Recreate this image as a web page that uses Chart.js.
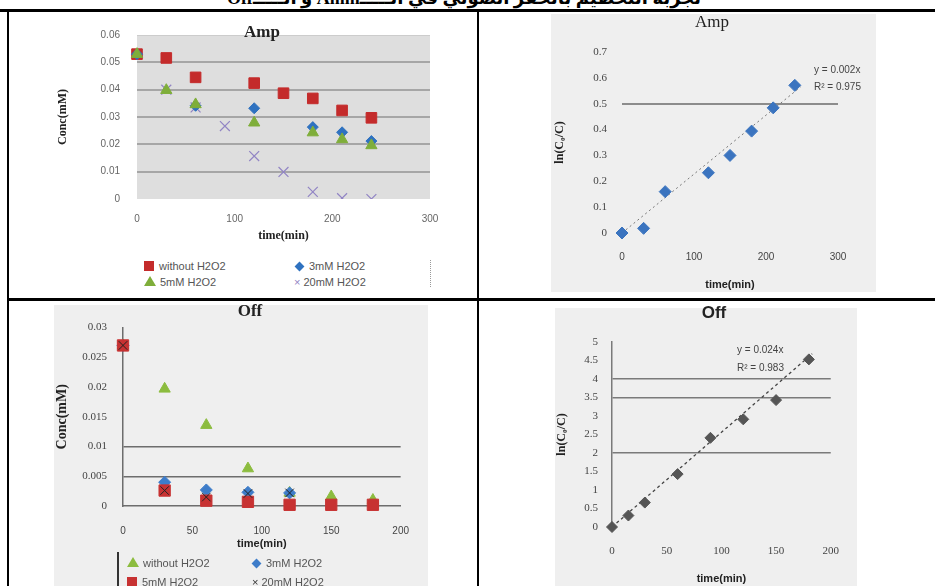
<!DOCTYPE html>
<html>
<head>
<meta charset="utf-8">
<script src="https://cdn.jsdelivr.net/npm/chart.js@4.4.1/dist/chart.umd.min.js"></script>
<style>
body { margin:0; width:935px; height:586px; overflow:hidden; background:#fff; position:relative; font-family:"Liberation Sans", sans-serif; }
.ln { position:absolute; background:#000; }
.panel { position:absolute; }
.panel canvas { position:absolute; left:0; top:0; }
.t { position:absolute; white-space:nowrap; transform:translate(-50%,-50%); }
.lt { position:absolute; white-space:nowrap; transform:translateY(-50%); font-size:11px; color:#555; }
.sq { display:inline-block; width:10px; height:10px; vertical-align:-1px; margin-right:5px; }
.dm { display:inline-block; width:7px; height:7px; transform:rotate(45deg); vertical-align:0px; margin-right:6px; }
.tri { display:inline-block; width:0; height:0; border-left:6px solid transparent; border-right:6px solid transparent; vertical-align:0px; margin-right:4px; }
.trend { position:absolute; white-space:nowrap; transform:translateY(-50%); font-size:10px; color:#444; }
</style>
</head>
<body>

<div class="t" style="left:464px;font:bold 18px 'Liberation Serif', 'DejaVu Sans', serif;transform:translate(-50%,0);line-height:18px;top:-11px;" dir="rtl">تجربة التحطيم بالحفز الضوئي في الـــــAmm و الـــــOff</div>

<!-- table lines -->
<div class="ln" style="left:0;top:9px;width:935px;height:2.5px;"></div>
<div class="ln" style="left:7px;top:9px;width:2px;height:577px;"></div>
<div class="ln" style="left:476.5px;top:9px;width:2.5px;height:577px;"></div>
<div class="ln" style="left:7px;top:298px;width:928px;height:2.5px;"></div>

<!-- panel 1 -->
<div class="panel" style="left:10px;top:12px;width:460px;height:240px;"><canvas id="c1" width="460" height="240"></canvas></div>
<div class="t" style="left:262px;top:32px;font:bold 17px 'Liberation Serif', serif;color:#222;">Amp</div>
<div class="lt" style="left:144px;top:266px;"><span class="sq" style="background:#c42b2b;"></span>without H2O2</div>
<div class="lt" style="left:296px;top:266px;"><span class="dm" style="background:#2f72c0;"></span>3mM H2O2</div>
<div class="lt" style="left:144px;top:282px;"><span class="tri" style="border-bottom:10px solid #7fae3a;"></span>5mM H2O2</div>
<div class="lt" style="left:294px;top:282px;"><span style="color:#9184c4;margin-right:3px;">×</span>20mM H2O2</div>
<div style="position:absolute;left:430px;top:260px;height:27px;border-left:1px dotted #999;"></div>

<!-- panel 2 -->
<div class="panel" style="left:551px;top:14px;width:325px;height:278px;background:#efefef;"><canvas id="c2" width="325" height="278"></canvas></div>
<div class="t" style="left:712px;top:22px;font:17px 'Liberation Serif', serif;color:#222;">Amp</div>
<div class="trend" style="left:814px;top:69px;">y = 0.002x</div>
<div class="trend" style="left:814px;top:86px;">R² = 0.975</div>

<!-- panel 3 -->
<div class="panel" style="left:54px;top:305px;width:374px;height:281px;background:#efefef;"><canvas id="c3" width="374" height="281"></canvas></div>
<div class="t" style="left:250px;top:311px;font:bold 17px 'Liberation Serif', serif;color:#222;">Off</div>
<div style="position:absolute;left:117px;top:552px;width:1.5px;height:34px;background:#333;"></div>
<div class="lt" style="left:127px;top:563px;"><span class="tri" style="border-bottom:10px solid #8cbc3f;"></span>without H2O2</div>
<div class="lt" style="left:253px;top:563px;"><span class="dm" style="background:#3d7cc9;"></span>3mM H2O2</div>
<div class="lt" style="left:127px;top:582px;"><span class="sq" style="background:#c73232;"></span>5mM H2O2</div>
<div class="lt" style="left:252px;top:582px;"><span style="color:#333;margin-right:3px;">×</span>20mM H2O2</div>

<!-- panel 4 -->
<div class="panel" style="left:555px;top:308px;width:302px;height:278px;background:#efefef;"><canvas id="c4" width="302" height="278"></canvas></div>
<div class="t" style="left:714px;top:313px;font:bold 17px 'Liberation Sans', sans-serif;color:#222;">Off</div>
<div class="trend" style="left:737px;top:349px;">y = 0.024x</div>
<div class="trend" style="left:737px;top:367px;">R² = 0.983</div>

<script>
// Amp - concentration vs time
const ampTimesWithout = [0, 30, 60, 120, 150, 180, 210, 240];
const ampWithout = [0.053, 0.0516, 0.0445, 0.0424, 0.0387, 0.0368, 0.0324, 0.0297];
const ampTimes3mM = [0, 60, 120, 180, 210, 240];
const amp3mM = [0.053, 0.0341, 0.0332, 0.0263, 0.0244, 0.0212];
const ampTimes5mM = [0, 30, 60, 120, 180, 210, 240];
const amp5mM = [0.053, 0.0398, 0.0346, 0.0279, 0.0243, 0.0218, 0.0196];
const ampTimes20mM = [0, 30, 60, 90, 120, 150, 180, 210, 240];
const amp20mM = [0.053, 0.040, 0.0335, 0.0267, 0.0157, 0.0099, 0.0026, 0.0003, 0.0];
const ampConcTicks = [0, 0.01, 0.02, 0.03, 0.04, 0.05, 0.06];
const ampTimeTicks = [0, 100, 200, 300];

// Amp - ln(C0/C)
const ampLnTimes = [0, 30, 60, 120, 150, 180, 210, 240];
const ampLn = [0, 0.018, 0.16, 0.233, 0.30, 0.394, 0.484, 0.571];
const ampTrendX = [0, 248];
const ampTrendY = [0, 0.565];
const ampLnTicks = [0, 0.1, 0.2, 0.3, 0.4, 0.5, 0.6, 0.7];

// Off - concentration vs time
const offTimes = [0, 30, 60, 90, 120, 150, 180];
const offWithout = [0.027, 0.0197, 0.0136, 0.0063, 0.0022, 0.0016, 0.001];
const offTimes3mM = [0, 30, 60, 90, 120];
const off3mM = [0.027, 0.0040, 0.0027, 0.0023, 0.0022];
const off5mM = [0.027, 0.0026, 0.0009, 0.0007, 0.0002, 0.0002, 0.0002];
const offTimes20mM = [0, 30, 60, 90, 120];
const off20mM = [0.027, 0.0026, 0.0015, 0.0021, 0.0022];
const offConcTicks = [0, 0.005, 0.01, 0.015, 0.02, 0.025, 0.03];
const offTimeTicks = [0, 50, 100, 150, 200];

// Off - ln(C0/C)
const offLnTimes = [0, 15, 30, 60, 90, 120, 150, 180];
const offLn = [0, 0.31, 0.66, 1.43, 2.41, 2.91, 3.43, 4.53];
const offTrendX = [0, 183];
const offTrendY = [0, 4.68];
const offLnTicks = [0, 0.5, 1, 1.5, 2, 2.5, 3, 3.5, 4, 4.5, 5];

function pts(xs, ys) {
    return ys.map((y, i) => ({ x: xs[i], y: y }));
}

function setTicks(arr) {
    return scale => { scale.ticks = arr.map(v => ({ value: v })); };
}

const sansTick = { family: 'Liberation Sans', size: 10 };
const serifTick = { family: 'Liberation Serif', size: 11 };

// grey plot area, drawn before the grid
const plotBgUnder = {
    id: 'plotBgUnder',
    beforeDraw(chart, args, opts) {
        if (!opts.color) return;
        const a = chart.chartArea;
        chart.ctx.save();
        chart.ctx.fillStyle = opts.color;
        chart.ctx.fillRect(a.left, a.top, a.right - a.left, a.bottom - a.top);
        chart.ctx.restore();
    }
};

function makeChart(id, o) {
    const ctx = document.getElementById(id).getContext('2d');
    o.datasets.forEach(d => { if (d.clip === undefined) d.clip = o.clip; });
    return new Chart(ctx, {
        type: 'scatter',
        data: { datasets: o.datasets },
        plugins: [plotBgUnder],
        options: {
            responsive: false,
            animation: false,
            layout: { padding: o.padding },
            plugins: {
                legend: { display: false },
                tooltip: { enabled: false },
                plotBgUnder: { color: o.bg }
            },
            scales: {
                x: {
                    type: 'linear', min: o.xMin, max: o.xMax,
                    afterBuildTicks: setTicks(o.xTicks),
                    afterFit: s => { s.height = o.xHeight; },
                    ticks: { padding: o.xPad, font: o.xTickFont || sansTick, color: o.tickColor, callback: v => String(v) },
                    grid: { display: false, drawTicks: false },
                    border: o.xBorder,
                    title: { display: true, text: 'time(min)', font: o.xTitleFont, color: '#222', padding: { top: 0, bottom: o.xTitlePad } }
                },
                y: {
                    type: 'linear', min: o.yMin, max: o.yMax,
                    afterBuildTicks: setTicks(o.yTicks),
                    afterFit: s => { s.width = o.yWidth; },
                    ticks: { padding: o.yPad, font: o.yTickFont || sansTick, color: o.tickColor, callback: v => String(v) },
                    grid: {
                        drawTicks: false,
                        color: c => o.gridAt.includes(c.tick.value) ? o.gridColor : (o.topGrid !== undefined && c.tick.value === o.yMax ? o.topGrid : 'rgba(0,0,0,0)'),
                        lineWidth: c => o.gridAt.includes(c.tick.value) ? o.gridWidth : 1
                    },
                    border: o.yBorder,
                    title: { display: true, text: o.yTitle, font: o.yTitleFont, color: '#222', padding: { top: o.yTitlePad, bottom: 0 } }
                }
            }
        }
    });
}

// panel 1
makeChart('c1', {
    padding: { top: 23, right: 40, left: 0, bottom: 0 },
    bg: '#dedede',
    clip: { left: false, top: false, right: false, bottom: 0 },
    xMin: 0, xMax: 300, xTicks: ampTimeTicks, xHeight: 53, xPad: 14, xTitlePad: 9,
    xTitleFont: { family: 'Liberation Serif', size: 12, weight: 'bold' },
    xBorder: { display: false },
    yMin: 0, yMax: 0.06, yTicks: ampConcTicks, yWidth: 127, yPad: 17, yTitlePad: 46,
    yTitle: 'Conc(mM)', yTitleFont: { family: 'Liberation Serif', size: 12, weight: 'bold' },
    yBorder: { display: false },
    tickColor: '#666',
    gridAt: [0.01, 0.02, 0.03, 0.04, 0.05], gridColor: '#a6a6a6', gridWidth: 2, topGrid: '#cccccc',
    datasets: [
        { label: '5mM H2O2', data: pts(ampTimes5mM, amp5mM), pointStyle: 'triangle', radius: 6.5, backgroundColor: '#7fae3a', borderColor: '#7fae3a', borderWidth: 1 },
        { label: '3mM H2O2', data: pts(ampTimes3mM, amp3mM), pointStyle: 'rectRot', radius: 5.5, backgroundColor: '#2f72c0', borderColor: '#2f72c0', borderWidth: 1 },
        { label: 'without H2O2', data: pts(ampTimesWithout, ampWithout), pointStyle: 'rect', radius: 7.5, backgroundColor: '#c42b2b', borderColor: '#c42b2b', borderWidth: 1 },
        { label: '20mM H2O2', data: pts(ampTimes20mM, amp20mM), pointStyle: 'crossRot', radius: 7, backgroundColor: '#9184c4', borderColor: '#9184c4', borderWidth: 1.2 }
    ]
});

// panel 2
makeChart('c2', {
    padding: { top: 38, right: 38, left: 0, bottom: 0 },
    clip: false,
    xMin: 0, xMax: 300, xTicks: ampTimeTicks, xHeight: 59, xPad: 18, xTitlePad: 0,
    xTitleFont: { family: 'Liberation Sans', size: 11, weight: 'bold' },
    xBorder: { display: false },
    yMin: 0, yMax: 0.7, yTicks: ampLnTicks, yWidth: 71, yPad: 15, yTitlePad: 2,
    yTickFont: serifTick,
    yTitle: 'ln(C₀/C)', yTitleFont: { family: 'Liberation Serif', size: 12, weight: 'bold' },
    yBorder: { display: false },
    tickColor: '#444',
    gridAt: [0.5], gridColor: '#8c8c8c', gridWidth: 2,
    datasets: [
        { label: 'Amp', data: pts(ampLnTimes, ampLn), pointStyle: 'rectRot', radius: 6, backgroundColor: '#3b74bf', borderColor: '#3b74bf', borderWidth: 1 },
        { label: 'trend', data: pts(ampTrendX, ampTrendY), showLine: true, pointRadius: 0, borderColor: '#777', borderWidth: 1, borderDash: [2, 3] }
    ]
});

// panel 3
makeChart('c3', {
    padding: { top: 14, right: 15, left: 0, bottom: 0 },
    clip: false,
    xMin: 0, xMax: 200, xTicks: offTimeTicks, xHeight: 80, xPad: 19, xTitlePad: 35,
    xTitleFont: { family: 'Liberation Sans', size: 11, weight: 'bold' },
    xBorder: { display: true, color: '#6d6d6d', width: 1.5 },
    yMin: 0, yMax: 0.03, yTicks: offConcTicks, yWidth: 69, yPad: 16, yTitlePad: 0,
    yTickFont: serifTick,
    yTitle: 'Conc(mM)', yTitleFont: { family: 'Liberation Serif', size: 14, weight: 'bold' },
    yBorder: { display: true, color: '#6d6d6d', width: 1.5 },
    tickColor: '#444',
    gridAt: [0.005, 0.01], gridColor: '#6d6d6d', gridWidth: 1.5,
    datasets: [
        { label: '20mM H2O2', data: pts(offTimes20mM, off20mM), pointStyle: 'crossRot', radius: 6, backgroundColor: '#222', borderColor: '#222', borderWidth: 1 },
        { label: '5mM H2O2', data: pts(offTimes, off5mM), pointStyle: 'rect', radius: 8, backgroundColor: '#c73232', borderColor: '#c73232', borderWidth: 1 },
        { label: '3mM H2O2', data: pts(offTimes3mM, off3mM), pointStyle: 'rectRot', radius: 6, backgroundColor: '#3d7cc9', borderColor: '#3d7cc9', borderWidth: 1 },
        { label: 'without H2O2', data: pts(offTimes, offWithout), pointStyle: 'triangle', radius: 6.5, backgroundColor: '#8cbc3f', borderColor: '#8cbc3f', borderWidth: 1 }
    ]
});

// panel 4
makeChart('c4', {
    padding: { top: 34, right: 9, left: 0, bottom: 0 },
    clip: false,
    xMin: 0, xMax: 200, xTicks: offTimeTicks, xHeight: 59, xPad: 18, xTitlePad: 0,
    xTickFont: serifTick,
    xTitleFont: { family: 'Liberation Sans', size: 11, weight: 'bold' },
    xBorder: { display: false },
    yMin: 0, yMax: 5, yTicks: offLnTicks, yWidth: 57, yPad: 14, yTitlePad: 0,
    yTickFont: serifTick,
    yTitle: 'ln(C₀/C)', yTitleFont: { family: 'Liberation Serif', size: 12, weight: 'bold' },
    yBorder: { display: true, color: '#7a7a7a', width: 1.5 },
    tickColor: '#444',
    gridAt: [2, 3.5, 4], gridColor: '#7a7a7a', gridWidth: 1.5,
    datasets: [
        { label: 'Off', data: pts(offLnTimes, offLn), pointStyle: 'rectRot', radius: 5.5, backgroundColor: '#555', borderColor: '#555', borderWidth: 1 },
        { label: 'trend', data: pts(offTrendX, offTrendY), showLine: true, pointRadius: 0, borderColor: '#444', borderWidth: 1.3, borderDash: [3, 3] }
    ]
});
</script>
</body>
</html>
